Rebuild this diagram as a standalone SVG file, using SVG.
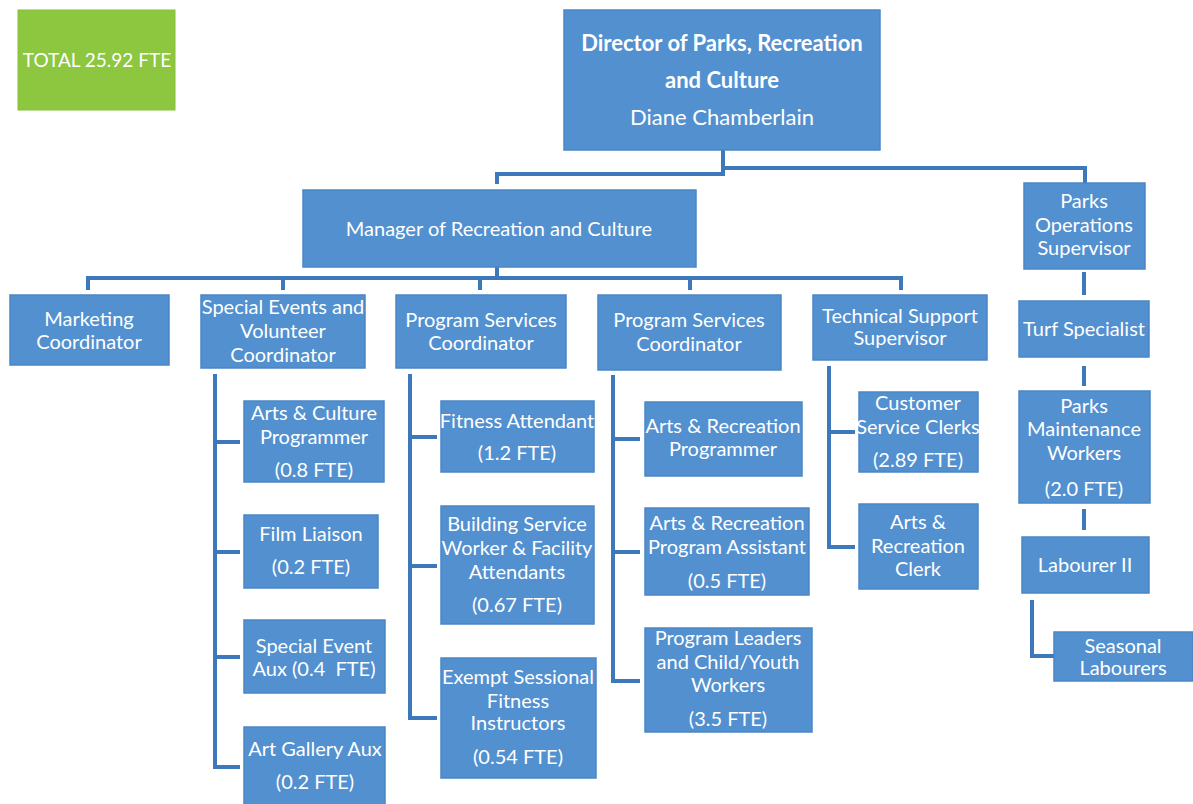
<svg xmlns="http://www.w3.org/2000/svg" width="1193" height="804" viewBox="0 0 1193 804">
<style>
.n{fill:#5290d0;stroke:#4a86c6;stroke-width:1.5}
.g{fill:#8dc63f;stroke:#86bf3a;stroke-width:1}
.t{font-family:Lato,"Open Sans","Liberation Sans",sans-serif;font-size:20px;fill:#ffffff;text-anchor:middle}
.b{font-weight:bold;font-size:22px}
.c{fill:none;stroke:#3d78ba;stroke-width:4;stroke-linecap:square;stroke-linejoin:miter}
</style>
<rect width="1193" height="804" fill="#ffffff"/>
<g id="connectors">
<path class="c" d="M723,152 V170 M497,182 V174 H723 M723,168 H1085 V182"/>
<path class="c" d="M497,268 V277 M88,288 V278 H901 V288 M283,278 V288 M480,278 V288 M690,278 V288"/>
<path class="c" d="M1084,274 V293 M1084,368 V384 M1084,511 V528 M1032,602 V656 H1053"/>
<path class="c" d="M215,376 V767 H238 M215,442 H238 M215,552 H238 M215,657 H238"/>
<path class="c" d="M410,376 V718 H435 M410,437 H435 M410,566 H435"/>
<path class="c" d="M613,377 V681 H638 M613,439 H638 M613,552 H638"/>
<path class="c" d="M829,368 V547 H853 M829,432 H853"/>
</g>
<g id="total"><rect class="g" x="18" y="10" width="157" height="100"/><text class="t" x="97" y="67" style="font-size:19px">TOTAL 25.92 FTE</text></g>
<g id="director"><rect class="n" x="564" y="10" width="316" height="140"/>
<text class="t b" x="722" y="51">Director of Parks, Recreation</text>
<text class="t b" x="722" y="88">and Culture</text>
<text class="t" x="722" y="125" style="font-size:22px">Diane Chamberlain</text></g>
<g id="manager"><rect class="n" x="303" y="190" width="393" height="77"/><text class="t" x="499" y="236">Manager of Recreation and Culture</text></g>
<g id="parks-ops"><rect class="n" x="1024" y="183" width="121" height="86"/>
<text class="t" x="1084" y="208">Parks</text><text class="t" x="1084" y="232">Operations</text><text class="t" x="1084" y="255">Supervisor</text></g>
<g id="marketing"><rect class="n" x="10" y="295" width="159" height="70"/>
<text class="t" x="89" y="326">Marketing</text><text class="t" x="89" y="349">Coordinator</text></g>
<g id="special-events"><rect class="n" x="201" y="295" width="164" height="73"/>
<text class="t" x="283" y="314">Special Events and</text><text class="t" x="283" y="338">Volunteer</text><text class="t" x="283" y="362">Coordinator</text></g>
<g id="prog-services-1"><rect class="n" x="396" y="295" width="170" height="73"/>
<text class="t" x="481" y="327">Program Services</text><text class="t" x="481" y="350">Coordinator</text></g>
<g id="prog-services-2"><rect class="n" x="598" y="295" width="183" height="75"/>
<text class="t" x="689" y="327">Program Services</text><text class="t" x="689" y="351">Coordinator</text></g>
<g id="tech-support"><rect class="n" x="813" y="295" width="174" height="65"/>
<text class="t" x="900" y="323">Technical Support</text><text class="t" x="900" y="345">Supervisor</text></g>
<g id="turf"><rect class="n" x="1019" y="301" width="130" height="56"/><text class="t" x="1084" y="336">Turf Specialist</text></g>
<g id="parks-maint"><rect class="n" x="1019" y="391" width="131" height="112"/>
<text class="t" x="1084" y="413">Parks</text><text class="t" x="1084" y="436">Maintenance</text><text class="t" x="1084" y="460">Workers</text><text class="t" x="1084" y="496">(2.0 FTE)</text></g>
<g id="labourer"><rect class="n" x="1022" y="537" width="127" height="56"/><text class="t" x="1085" y="572">Labourer II</text></g>
<g id="seasonal"><rect class="n" x="1054" y="632" width="139" height="49"/>
<text class="t" x="1123" y="653">Seasonal</text><text class="t" x="1123" y="675">Labourers</text></g>
<g id="arts-culture"><rect class="n" x="244" y="401" width="140" height="81"/>
<text class="t" x="314" y="420">Arts &amp; Culture</text><text class="t" x="314" y="444">Programmer</text><text class="t" x="314" y="477">(0.8 FTE)</text></g>
<g id="film"><rect class="n" x="244" y="515" width="134" height="73"/>
<text class="t" x="311" y="541">Film Liaison</text><text class="t" x="311" y="574">(0.2 FTE)</text></g>
<g id="special-aux"><rect class="n" x="244" y="620" width="141" height="73"/>
<text class="t" x="314" y="653">Special Event</text><text class="t" x="314" y="676" style="white-space:pre">Aux (0.4  FTE)</text></g>
<g id="gallery"><rect class="n" x="244" y="727" width="141" height="80"/>
<text class="t" x="315" y="756">Art Gallery Aux</text><text class="t" x="315" y="789">(0.2 FTE)</text></g>
<g id="fitness"><rect class="n" x="441" y="401" width="153" height="71"/>
<text class="t" x="517" y="428">Fitness Attendant</text><text class="t" x="517" y="460">(1.2 FTE)</text></g>
<g id="building"><rect class="n" x="441" y="506" width="153" height="118"/>
<text class="t" x="517" y="531">Building Service</text><text class="t" x="517" y="555">Worker &amp; Facility</text><text class="t" x="517" y="579">Attendants</text><text class="t" x="517" y="612">(0.67 FTE)</text></g>
<g id="exempt"><rect class="n" x="441" y="658" width="155" height="120"/>
<text class="t" x="518" y="684">Exempt Sessional</text><text class="t" x="518" y="708">Fitness</text><text class="t" x="518" y="730">Instructors</text><text class="t" x="518" y="764">(0.54 FTE)</text></g>
<g id="arts-rec-prog"><rect class="n" x="645" y="402" width="157" height="74"/>
<text class="t" x="723" y="433">Arts &amp; Recreation</text><text class="t" x="723" y="456">Programmer</text></g>
<g id="arts-rec-assist"><rect class="n" x="645" y="508" width="164" height="87"/>
<text class="t" x="727" y="530">Arts &amp; Recreation</text><text class="t" x="727" y="554">Program Assistant</text><text class="t" x="727" y="588">(0.5 FTE)</text></g>
<g id="leaders"><rect class="n" x="645" y="628" width="167" height="104"/>
<text class="t" x="728" y="645">Program Leaders</text><text class="t" x="728" y="669">and Child/Youth</text><text class="t" x="728" y="692">Workers</text><text class="t" x="728" y="726">(3.5 FTE)</text></g>
<g id="customer"><rect class="n" x="859" y="392" width="119" height="80"/>
<text class="t" x="918" y="410">Customer</text><text class="t" x="918" y="434">Service Clerks</text><text class="t" x="918" y="467">(2.89 FTE)</text></g>
<g id="arts-rec-clerk"><rect class="n" x="859" y="504" width="119" height="85"/>
<text class="t" x="918" y="529">Arts &amp;</text><text class="t" x="918" y="553">Recreation</text><text class="t" x="918" y="576">Clerk</text></g>
</svg>
